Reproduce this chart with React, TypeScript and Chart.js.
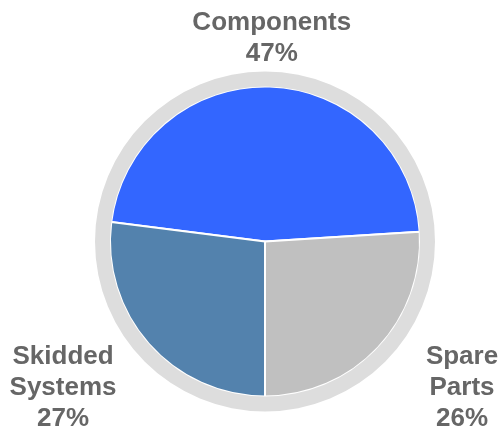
import React, { useEffect, useRef } from "react";
import { Chart, registerables } from "chart.js";

Chart.register(...registerables);

const categories = ["Components", "Spare Parts", "Skidded Systems"];
const values = [47, 26, 27];
const labelLines = [["Components", "47%"], ["Spare", "Parts", "26%"], ["Skidded", "Systems", "27%"]];
const sliceColors = ["#3366ff", "#c0c0c0", "#5382ad"];

const labelPlugin = {
  id: "sliceLabels",
  afterDraw(chart: any, _args: any, opts: any) {
    const ringMeta = chart.getDatasetMeta(0);
    const pieMeta = chart.getDatasetMeta(1);
    const R = ringMeta.data[0].outerRadius;
    const ctx = chart.ctx;
    ctx.save();
    ctx.font = "bold 26px 'Liberation Sans', Arial, sans-serif";
    ctx.fillStyle = "#666666";
    ctx.textAlign = "center";
    ctx.textBaseline = "middle";
    pieMeta.data.forEach((arc: any, i: number) => {
      const [fx, fy] = opts.offsets[i];
      const lines = labelLines[i];
      const cx = arc.x + fx * R;
      const cy = arc.y + fy * R;
      const lh = 31;
      const top = cy - ((lines.length - 1) * lh) / 2;
      lines.forEach((t: string, j: number) => ctx.fillText(t, cx, top + j * lh));
    });
    ctx.restore();
  },
};

export default function App() {
  const ref = useRef<HTMLCanvasElement>(null);
  useEffect(() => {
    if (!ref.current) return;
    const chart = new Chart(ref.current, {
      type: "doughnut",
      data: {
        labels: categories,
        datasets: [
          {
            data: [1],
            backgroundColor: ["#dddddd"],
            borderWidth: 0,
            weight: 15,
          } as any,
          {
            data: values,
            backgroundColor: sliceColors,
            borderColor: "#ffffff",
            borderWidth: 2,
            weight: 155,
            rotation: -82.8,
          } as any,
        ],
      },
      options: {
        responsive: false,
        animation: false,
        cutout: 0,
        layout: { padding: { left: 95, right: 65, top: 71.5, bottom: 20.5 } },
        plugins: {
          legend: { display: false },
          tooltip: { enabled: false },
          sliceLabels: {
            offsets: [
              [0.04, -1.197],
              [1.159, 0.859],
              [-1.188, 0.859],
            ],
          },
        } as any,
      },
      plugins: [labelPlugin],
    });
    return () => chart.destroy();
  }, []);
  return (
    <div style={{ position: "absolute", left: 0, top: 0, width: 500, height: 432 }}>
      <canvas ref={ref} width={500} height={432} />
    </div>
  );
}
